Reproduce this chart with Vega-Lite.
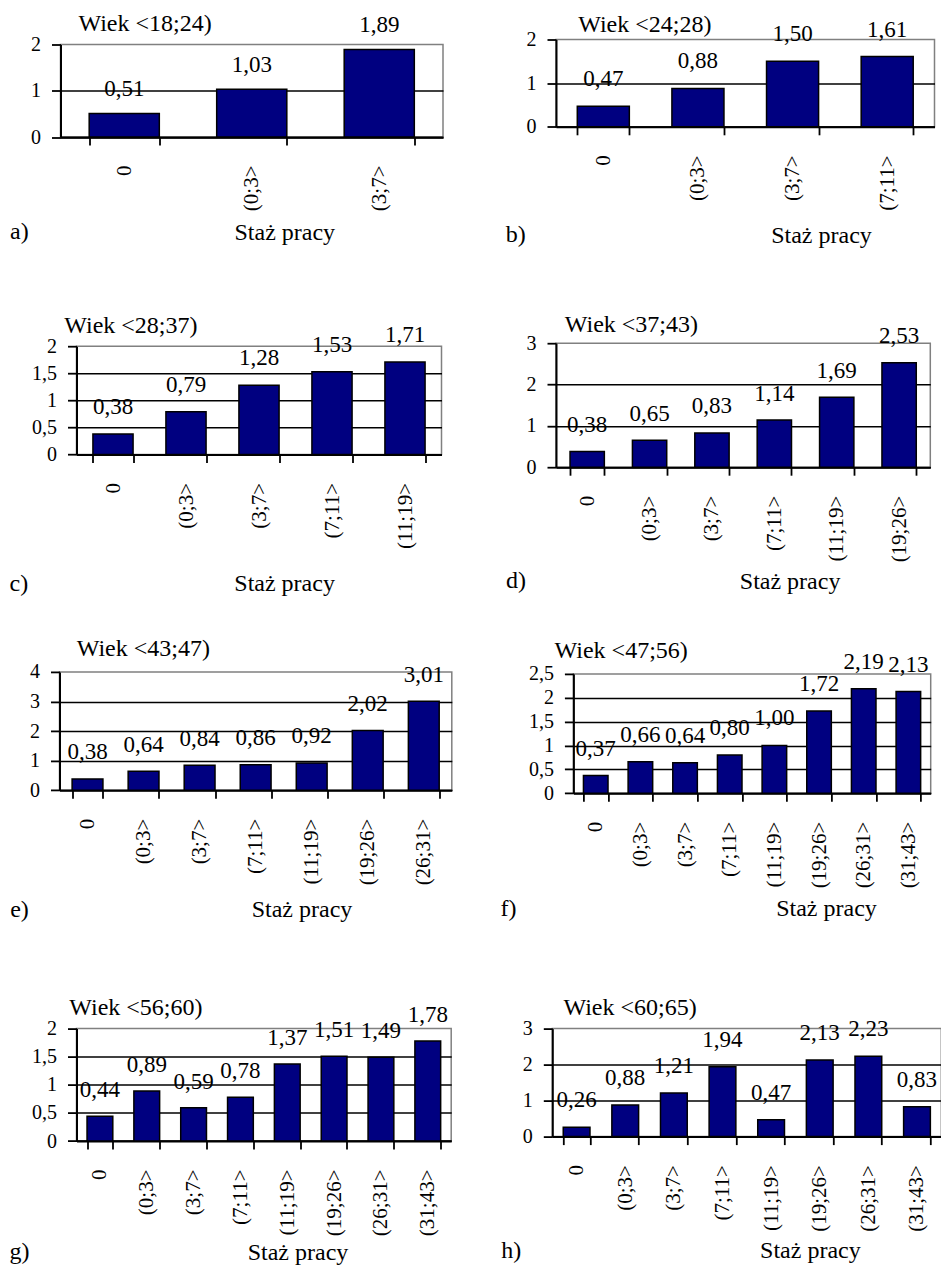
{
  "$schema": "https://vega.github.io/schema/vega-lite/v6.json",
  "background": "white",
  "padding": {"left": 7.5, "top": 8.5, "right": 0, "bottom": 0},
  "spacing": 36.7,
  "vconcat": [
    {
      "spacing": 58.5,
      "hconcat": [
        {"spacing": 0, "vconcat": [
          {"width": 1, "height": 1, "view": {"stroke": null}, "data": {"values": []}, "mark": "point"},
          {"spacing": 0, "hconcat": [
            {"width": 1, "height": 1, "view": {"stroke": null}, "data": {"values": []}, "mark": "point"},
            {
              "width": 382.5, "height": 92.5,
              "data": {"values": [
                {"staz": "0", "v": 0.51}, {"staz": "(0;3>", "v": 1.03}, {"staz": "(3;7>", "v": 1.89}
              ]},
              "title": {"text": "a)", "orient": "bottom", "anchor": "start", "frame": "group", "dx": -50.5, "offset": -5, "baseline": "alphabetic"},
              "encoding": {
                "x": {"field": "staz", "type": "nominal", "sort": null, "scale": {"paddingInner": 0.45, "paddingOuter": 0.225},
                      "axis": {"title": "Staż pracy", "titleX": 173.5, "titleY": 102}},
                "y": {"field": "v", "type": "quantitative", "scale": {"domain": [0, 2]},
                      "axis": {"values": [0, 1, 2], "title": "Wiek <18;24)", "titleX": 17.5, "titleY": -14.5,
                               "gridOpacity": {"condition": {"test": "datum.value >= 2", "value": 0}, "value": 1}}}
              },
              "layer": [
                {"mark": {"type": "bar"}},
                {"mark": {"type": "text", "dy": -17.5, "baseline": "alphabetic"}, "encoding": {"text": {"field": "v", "type": "quantitative", "format": ".2f"}}}
              ]
            }
          ]}
        ]},
        {"spacing": 0, "vconcat": [
          {"width": 1, "height": 1, "view": {"stroke": null}, "data": {"values": []}, "mark": "point"},
          {"spacing": 0, "hconcat": [
            {"width": 1, "height": 1, "view": {"stroke": null}, "data": {"values": []}, "mark": "point"},
            {
              "width": 378.5, "height": 87.3,
              "data": {"values": [
                {"staz": "0", "v": 0.47}, {"staz": "(0;3>", "v": 0.88}, {"staz": "(3;7>", "v": 1.50}, {"staz": "(7;11>", "v": 1.61}
              ]},
              "title": {"text": "b)", "orient": "bottom", "anchor": "start", "frame": "group", "dx": -50.3, "offset": -5, "baseline": "alphabetic"},
              "encoding": {
                "x": {"field": "staz", "type": "nominal", "sort": null, "scale": {"paddingInner": 0.45, "paddingOuter": 0.225},
                      "axis": {"title": "Staż pracy", "titleX": 214.7, "titleY": 115.4}},
                "y": {"field": "v", "type": "quantitative", "scale": {"domain": [0, 2]},
                      "axis": {"values": [0, 1, 2], "title": ["", "Wiek <24;28)"], "titleLineHeight": 1.7, "titleX": 21.7, "titleY": -10,
                               "gridOpacity": {"condition": {"test": "datum.value >= 2", "value": 0}, "value": 1}}}
              },
              "layer": [
                {"mark": {"type": "bar"}},
                {"mark": {"type": "text", "dy": -20, "baseline": "alphabetic"}, "encoding": {"text": {"field": "v", "type": "quantitative", "format": ".2f"}}}
              ]
            }
          ]}
        ]}
      ]
    },
    {
      "spacing": 61.5,
      "hconcat": [
        {"spacing": 0, "vconcat": [
          {"width": 1, "height": 1, "view": {"stroke": null}, "data": {"values": []}, "mark": "point"},
          {"spacing": 0, "hconcat": [
            {"width": 1, "height": 1, "view": {"stroke": null}, "data": {"values": []}, "mark": "point"},
            {
              "width": 365, "height": 108.3,
              "data": {"values": [
                {"staz": "0", "v": 0.38}, {"staz": "(0;3>", "v": 0.79}, {"staz": "(3;7>", "v": 1.28}, {"staz": "(7;11>", "v": 1.53}, {"staz": "(11;19>", "v": 1.71}
              ]},
              "title": {"text": "c)", "orient": "bottom", "anchor": "start", "frame": "group", "dx": -67, "offset": -5, "baseline": "alphabetic"},
              "encoding": {
                "x": {"field": "staz", "type": "nominal", "sort": null, "scale": {"paddingInner": 0.45, "paddingOuter": 0.225},
                      "axis": {"title": "Staż pracy", "titleX": 157.3, "titleY": 136}},
                "y": {"field": "v", "type": "quantitative", "scale": {"domain": [0, 2]},
                      "axis": {"values": [0, 0.5, 1, 1.5, 2], "title": ["", "Wiek <28;37)"], "titleLineHeight": 25.9, "titleX": -12.7, "titleY": -39.3,
                               "gridOpacity": {"condition": {"test": "datum.value >= 2", "value": 0}, "value": 1}}}
              },
              "layer": [
                {"mark": {"type": "bar"}},
                {"mark": {"type": "text", "dy": -20, "baseline": "alphabetic"}, "encoding": {"text": {"field": "v", "type": "quantitative", "format": ".2f"}}}
              ]
            }
          ]}
        ]},
        {"spacing": 0, "vconcat": [
          {"width": 1, "height": 1, "view": {"stroke": null}, "data": {"values": []}, "mark": "point"},
          {"spacing": 0, "hconcat": [
            {"width": 1, "height": 1, "view": {"stroke": null}, "data": {"values": []}, "mark": "point"},
            {
              "width": 374.3, "height": 124,
              "data": {"values": [
                {"staz": "0", "v": 0.38}, {"staz": "(0;3>", "v": 0.65}, {"staz": "(3;7>", "v": 0.83}, {"staz": "(7;11>", "v": 1.14}, {"staz": "(11;19>", "v": 1.69}, {"staz": "(19;26>", "v": 2.53}
              ]},
              "title": {"text": "d)", "orient": "bottom", "anchor": "start", "frame": "group", "dx": -50, "offset": -5, "baseline": "alphabetic"},
              "encoding": {
                "x": {"field": "staz", "type": "nominal", "sort": null, "scale": {"paddingInner": 0.45, "paddingOuter": 0.225},
                      "axis": {"title": "Staż pracy", "titleX": 183.3, "titleY": 121}},
                "y": {"field": "v", "type": "quantitative", "scale": {"domain": [0, 3]},
                      "axis": {"values": [0, 1, 2, 3], "title": ["", "Wiek <37;43)"], "titleLineHeight": 25.3, "titleX": 8.3, "titleY": -36.9,
                               "gridOpacity": {"condition": {"test": "datum.value >= 3", "value": 0}, "value": 1}}}
              },
              "layer": [
                {"mark": {"type": "bar"}},
                {"mark": {"type": "text", "dy": -19.5, "baseline": "alphabetic"}, "encoding": {"text": {"field": "v", "type": "quantitative", "format": ".2f"}}}
              ]
            }
          ]}
        ]}
      ]
    },
    {
      "spacing": 44.9,
      "hconcat": [
        {"spacing": 0, "vconcat": [
          {"width": 1, "height": 1, "view": {"stroke": null}, "data": {"values": []}, "mark": "point"},
          {"spacing": 0, "hconcat": [
            {"width": 1, "height": 1, "view": {"stroke": null}, "data": {"values": []}, "mark": "point"},
            {
              "width": 392.3, "height": 118.3,
              "data": {"values": [
                {"staz": "0", "v": 0.38}, {"staz": "(0;3>", "v": 0.64}, {"staz": "(3;7>", "v": 0.84}, {"staz": "(7;11>", "v": 0.86}, {"staz": "(11;19>", "v": 0.92}, {"staz": "(19;26>", "v": 2.02}, {"staz": "(26;31>", "v": 3.01}
              ]},
              "title": {"text": "e)", "orient": "bottom", "anchor": "start", "frame": "group", "dx": -49.3, "offset": -5, "baseline": "alphabetic"},
              "encoding": {
                "x": {"field": "staz", "type": "nominal", "sort": null, "scale": {"paddingInner": 0.45, "paddingOuter": 0.225},
                      "axis": {"title": "Staż pracy", "titleX": 191.7, "titleY": 126.6}},
                "y": {"field": "v", "type": "quantitative", "scale": {"domain": [0, 4]},
                      "axis": {"values": [0, 1, 2, 3, 4], "title": "Wiek <43;47)", "titleX": 16.7, "titleY": -16.6,
                               "gridOpacity": {"condition": {"test": "datum.value >= 4", "value": 0}, "value": 1}}}
              },
              "layer": [
                {"mark": {"type": "bar"}},
                {"mark": {"type": "text", "dy": -19.5, "baseline": "alphabetic"}, "encoding": {"text": {"field": "v", "type": "quantitative", "format": ".2f"}}}
              ]
            }
          ]}
        ]},
        {"spacing": 0, "vconcat": [
          {"width": 1, "height": 1, "view": {"stroke": null}, "data": {"values": []}, "mark": "point"},
          {"spacing": 0, "hconcat": [
            {"width": 1, "height": 1, "view": {"stroke": null}, "data": {"values": []}, "mark": "point"},
            {
              "width": 357.3, "height": 119.3,
              "data": {"values": [
                {"staz": "0", "v": 0.37}, {"staz": "(0;3>", "v": 0.66}, {"staz": "(3;7>", "v": 0.64}, {"staz": "(7;11>", "v": 0.80}, {"staz": "(11;19>", "v": 1.00}, {"staz": "(19;26>", "v": 1.72}, {"staz": "(26;31>", "v": 2.19}, {"staz": "(31;43>", "v": 2.13}
              ]},
              "title": {"text": "f)", "orient": "bottom", "anchor": "start", "frame": "group", "dx": -73, "offset": -5, "baseline": "alphabetic"},
              "encoding": {
                "x": {"field": "staz", "type": "nominal", "sort": null, "scale": {"paddingInner": 0.45, "paddingOuter": 0.225},
                      "axis": {"title": "Staż pracy", "titleX": 202.3, "titleY": 122.4}},
                "y": {"field": "v", "type": "quantitative", "scale": {"domain": [0, 2.5]},
                      "axis": {"values": [0, 0.5, 1, 1.5, 2, 2.5], "title": ["", "Wiek <47;56)"], "titleLineHeight": 1.6, "titleX": -19.3, "titleY": -18.3,
                               "gridOpacity": {"condition": {"test": "datum.value >= 2.5", "value": 0}, "value": 1}}}
              },
              "layer": [
                {"mark": {"type": "bar"}},
                {"mark": {"type": "text", "dy": -20, "baseline": "alphabetic"}, "encoding": {"text": {"field": "v", "type": "quantitative", "format": ".2f"}}}
              ]
            }
          ]}
        ]}
      ]
    },
    {
      "spacing": 46.8,
      "hconcat": [
        {"spacing": 0, "vconcat": [
          {"width": 1, "height": 1, "view": {"stroke": null}, "data": {"values": []}, "mark": "point"},
          {"spacing": 0, "hconcat": [
            {"width": 1, "height": 1, "view": {"stroke": null}, "data": {"values": []}, "mark": "point"},
            {
              "width": 374.7, "height": 112.4,
              "data": {"values": [
                {"staz": "0", "v": 0.44}, {"staz": "(0;3>", "v": 0.89}, {"staz": "(3;7>", "v": 0.59}, {"staz": "(7;11>", "v": 0.78}, {"staz": "(11;19>", "v": 1.37}, {"staz": "(19;26>", "v": 1.51}, {"staz": "(26;31>", "v": 1.49}, {"staz": "(31;43>", "v": 1.78}
              ]},
              "title": {"text": "g)", "orient": "bottom", "anchor": "start", "frame": "group", "dx": -67, "offset": -5, "baseline": "alphabetic"},
              "encoding": {
                "x": {"field": "staz", "type": "nominal", "sort": null, "scale": {"paddingInner": 0.45, "paddingOuter": 0.225},
                      "axis": {"title": "Staż pracy", "titleX": 170.7, "titleY": 118.3}},
                "y": {"field": "v", "type": "quantitative", "scale": {"domain": [0, 2]},
                      "axis": {"values": [0, 0.5, 1, 1.5, 2], "title": ["", "Wiek <56;60)"], "titleLineHeight": 33.5, "titleX": -7.7, "titleY": -47.8,
                               "gridOpacity": {"condition": {"test": "datum.value >= 2", "value": 0}, "value": 1}}}
              },
              "layer": [
                {"mark": {"type": "bar"}},
                {"mark": {"type": "text", "dy": -19, "baseline": "alphabetic"}, "encoding": {"text": {"field": "v", "type": "quantitative", "format": ".2f"}}}
              ]
            }
          ]}
        ]},
        {"spacing": 0, "vconcat": [
          {"width": 1, "height": 1, "view": {"stroke": null}, "data": {"values": []}, "mark": "point"},
          {"spacing": 0, "hconcat": [
            {"width": 1, "height": 1, "view": {"stroke": null}, "data": {"values": []}, "mark": "point"},
            {
              "width": 389, "height": 108,
              "data": {"values": [
                {"staz": "0", "v": 0.26}, {"staz": "(0;3>", "v": 0.88}, {"staz": "(3;7>", "v": 1.21}, {"staz": "(7;11>", "v": 1.94}, {"staz": "(11;19>", "v": 0.47}, {"staz": "(19;26>", "v": 2.13}, {"staz": "(26;31>", "v": 2.23}, {"staz": "(31;43>", "v": 0.83}
              ]},
              "title": {"text": "h)", "orient": "bottom", "anchor": "start", "frame": "group", "dx": -51, "offset": -5, "baseline": "alphabetic"},
              "encoding": {
                "x": {"field": "staz", "type": "nominal", "sort": null, "scale": {"paddingInner": 0.45, "paddingOuter": 0.225},
                      "axis": {"title": "Staż pracy", "titleX": 207.3, "titleY": 121.3}},
                "y": {"field": "v", "type": "quantitative", "scale": {"domain": [0, 3]},
                      "axis": {"values": [0, 1, 2, 3], "title": ["", "Wiek <60;65)"], "titleLineHeight": 33.5, "titleX": 10.7, "titleY": -47.5,
                               "gridOpacity": {"condition": {"test": "datum.value >= 3", "value": 0}, "value": 1}}}
              },
              "layer": [
                {"mark": {"type": "bar"}},
                {"mark": {"type": "text", "dy": -20, "baseline": "alphabetic"}, "encoding": {"text": {"field": "v", "type": "quantitative", "format": ".2f"}}}
              ]
            }
          ]}
        ]}
      ]
    }
  ],
  "config": {
    "font": "Liberation Serif",
    "locale": {"number": {"decimal": ",", "thousands": " ", "grouping": [3], "currency": ["", ""]}},
    "view": {"stroke": "#808080", "strokeWidth": 1.5},
    "axis": {
      "domainColor": "black", "domainWidth": 2, "tickColor": "black", "tickWidth": 1.8,
      "labelColor": "black", "labelFont": "Liberation Serif", "titleFont": "Liberation Serif",
      "titleFontWeight": "normal", "titleColor": "black", "titleFontSize": 24,
      "titleAlign": "left", "titleBaseline": "alphabetic", "titleAngle": 0,
      "gridColor": "black", "gridWidth": 1.5, "labelOverlap": false
    },
    "axisX": {"labelAngle": -90, "labelFontSize": 21, "tickSize": 8, "labelPadding": 20, "tickBand": "extent", "grid": false},
    "axisY": {"labelFontSize": 20, "tickSize": 9, "labelPadding": 11, "grid": true, "format": "~g"},
    "title": {"fontWeight": "normal", "fontSize": 24, "font": "Liberation Serif", "color": "black"},
    "text": {"fontSize": 23, "font": "Liberation Serif", "color": "black"},
    "bar": {"fill": "#000080", "stroke": "black", "strokeWidth": 1.5}
  }
}
